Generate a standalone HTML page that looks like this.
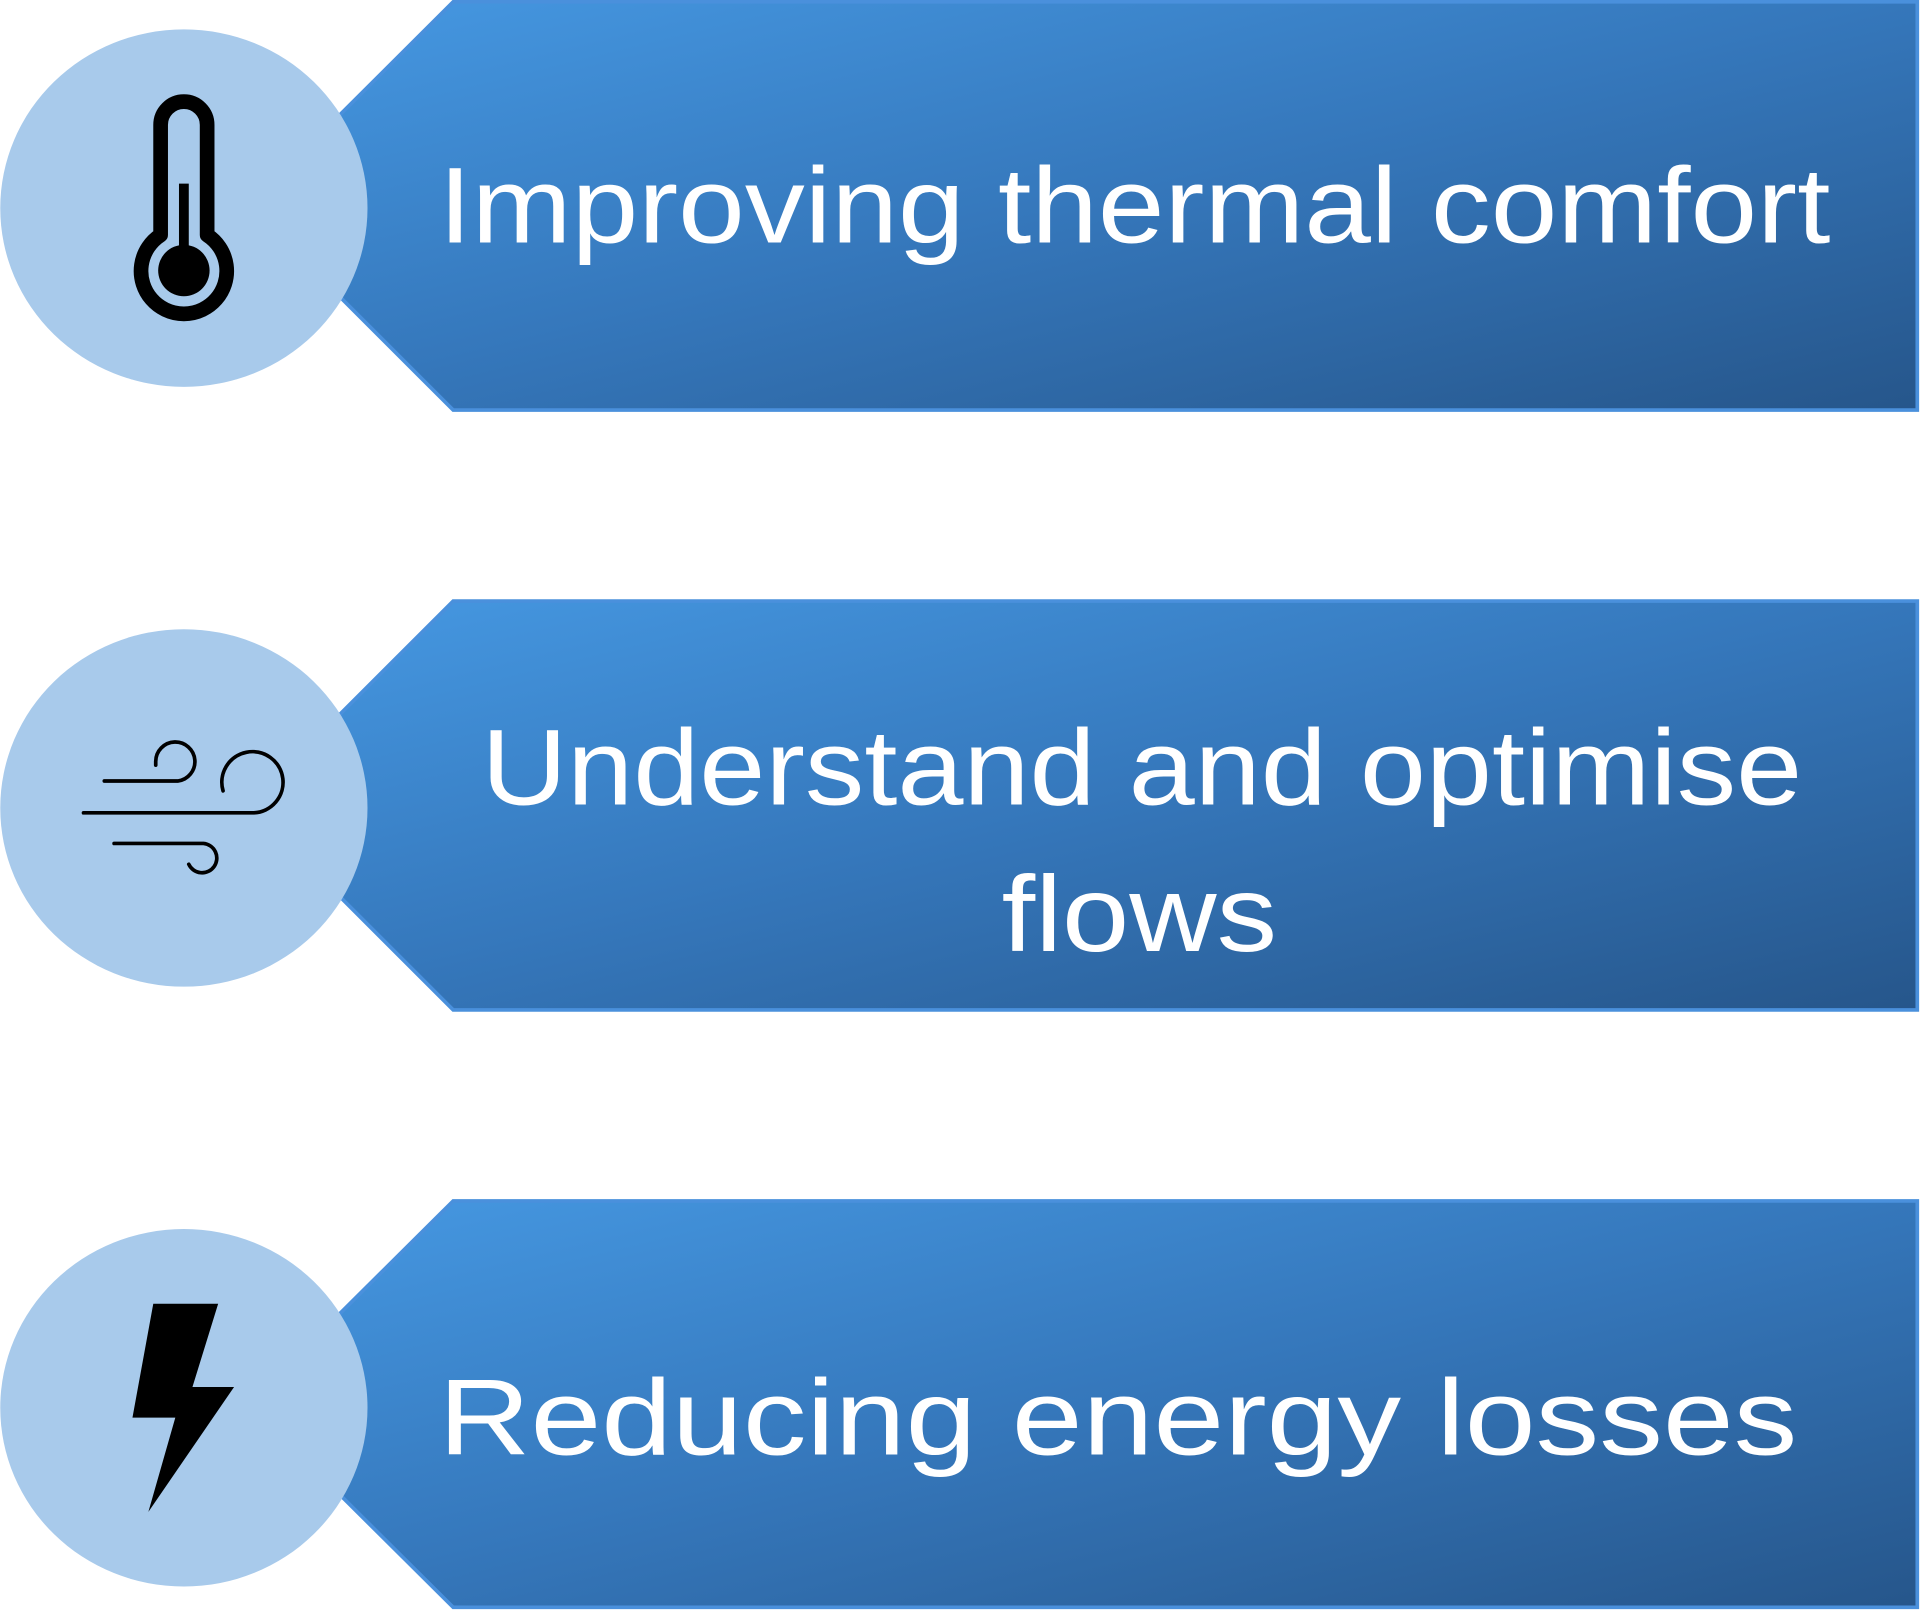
<!DOCTYPE html>
<html><head><meta charset="utf-8"><style>
html,body{margin:0;padding:0;background:#fff;width:1920px;height:1611px;overflow:hidden}
svg{display:block}
text{font-family:"Liberation Sans",sans-serif;fill:#fff;font-size:88px}
</style></head><body>
<svg width="1920" height="1611" viewBox="0 0 1568 1316" xmlns="http://www.w3.org/2000/svg">
<defs>
<linearGradient id="g" x1="0" y1="0" x2="1" y2="1" gradientUnits="objectBoundingBox">
<stop offset="0" stop-color="#4699e3"/><stop offset="0.5" stop-color="#3577bb"/><stop offset="1" stop-color="#26568b"/>
</linearGradient>
</defs>
<g>
<polygon points="370,1.5 1566,1.5 1566,335 370,335 203,168" fill="url(#g)" stroke="#4a90dc" stroke-width="3"/>
<ellipse cx="150" cy="170" rx="150" ry="146" fill="#a8caeb"/>
<text x="358" y="198" textLength="1137" lengthAdjust="spacingAndGlyphs">Improving thermal comfort</text>
<path d="M131,192 V102 A19,19 0 0 1 169,102 V192 A35,35 0 1 1 131,192 Z" fill="none" stroke="#000" stroke-width="12" stroke-linejoin="round"/>
<line x1="150" y1="150" x2="150" y2="210" stroke="#000" stroke-width="8"/>
<circle cx="150" cy="221" r="21" fill="#000"/>
</g>
<g>
<polygon points="370,491 1566,491 1566,825 370,825 203,658" fill="url(#g)" stroke="#4a90dc" stroke-width="3"/>
<ellipse cx="150" cy="660" rx="150" ry="146" fill="#a8caeb"/>
<text x="393" y="657" textLength="1079" lengthAdjust="spacingAndGlyphs">Understand and optimise</text>
<text x="818" y="777" textLength="225" lengthAdjust="spacingAndGlyphs">flows</text>
<g fill="none" stroke="#000" stroke-width="3" stroke-linecap="round">
<path d="M85,638 H145 A16,16 0 1 0 127,622 V625"/>
<path d="M68,664 H207 A25,25 0 1 0 182,646"/>
<path d="M93,689 H166 A12,12 0 1 1 154,706"/>
</g>
</g>
<g>
<polygon points="370,981 1566,981 1566,1313 370,1313 203,1147" fill="url(#g)" stroke="#4a90dc" stroke-width="3"/>
<ellipse cx="150" cy="1150" rx="150" ry="146" fill="#a8caeb"/>
<text x="358" y="1188" textLength="1110" lengthAdjust="spacingAndGlyphs">Reducing energy losses</text>
<polygon points="125,1065 178,1065 157,1133 191,1133 121,1235 143,1158 108,1158" fill="#000"/>
</g>
</svg>
</body></html>
